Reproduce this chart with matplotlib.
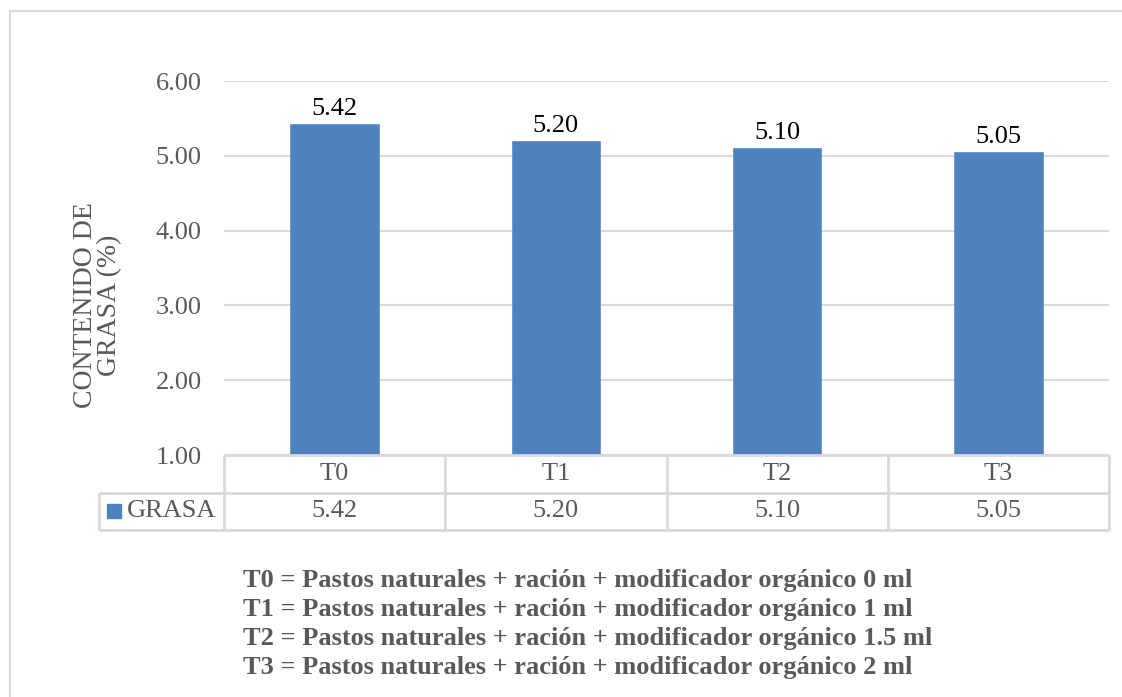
import matplotlib.pyplot as plt
from matplotlib.patches import Rectangle

plt.rcParams['font.family'] = ['Liberation Serif', 'DejaVu Serif']

# Data
tratamientos = ['T0', 'T1', 'T2', 'T3']
grasa = [5.42, 5.20, 5.10, 5.05]
serie = 'GRASA'
y_ticks = [1.0, 2.0, 3.0, 4.0, 5.0, 6.0]
y_label = 'CONTENIDO DE\nGRASA (%)'
notas = [
    'T0 = Pastos naturales + ración + modificador orgánico 0 ml',
    'T1 = Pastos naturales + ración + modificador orgánico 1 ml',
    'T2 = Pastos naturales + ración + modificador orgánico 1.5 ml',
    'T3 = Pastos naturales + ración + modificador orgánico 2 ml',
]

W, H = 1122, 697
gris = '#595959'
linea = '#D9D9D9'
azul = '#4F81BD'

fig = plt.figure(figsize=(W / 100, H / 100), dpi=100)


def box(x0, y0, x1, y1):
    # pixel box (top-left origin) -> figure fraction rect
    return [x0 / W, 1 - y1 / H, (x1 - x0) / W, (y1 - y0) / H]


# outer chart frame
fig.patches.append(Rectangle((10 / W, -0.1), 1.2, 1 - 11 / H + 0.1, transform=fig.transFigure,
                             fill=False, edgecolor=linea, linewidth=1.5))

# plot area
px_left, px_right, px_top, px_bot = 224, 1109, 81, 455
ax = fig.add_axes(box(px_left, px_top, px_right, px_bot))
x = range(len(tratamientos))
ax.bar(x, grasa, width=0.4, color=azul, edgecolor='#6A96CC', linewidth=0.6, zorder=3)
ax.set_xlim(-0.5, len(tratamientos) - 0.5)
ax.set_ylim(1, 6)
ax.set_yticks(y_ticks)
ax.set_yticklabels([f'{v:.2f}' for v in y_ticks], fontsize=19, color=gris)
ax.tick_params(axis='y', length=0, pad=16)
ax.set_xticks([])
ax.grid(axis='y', color=linea, linewidth=1.5, zorder=0)
for s in ax.spines.values():
    s.set_visible(False)

for xi, v in zip(x, grasa):
    ax.annotate(f'{v:.2f}', (xi, v), xytext=(0, 6.5), textcoords='offset points',
                ha='center', va='baseline', fontsize=19, color='black')

# data table below the plot
leg_left, tab_bot = 99, 530
unit = (px_right - px_left) / len(tratamientos)
tab = fig.add_axes(box(leg_left, px_bot, px_right, tab_bot))
x_leg = -0.5 - (px_left - leg_left) / unit
tab.set_xlim(x_leg, len(tratamientos) - 0.5)
tab.set_ylim(0, 2)
tab.axis('off')
lk = dict(color=linea, linewidth=2, clip_on=False, solid_capstyle='butt')
tab.plot([-0.5, len(tratamientos) - 0.5], [2, 2], **lk)
tab.plot([x_leg, len(tratamientos) - 0.5], [1, 1], **lk)
tab.plot([x_leg, len(tratamientos) - 0.5], [0, 0], **lk)
for i in range(len(tratamientos) + 1):
    tab.plot([i - 0.5, i - 0.5], [0, 2], **lk)
tab.plot([x_leg, x_leg], [0, 1], **lk)

for i, (t, v) in enumerate(zip(tratamientos, grasa)):
    tab.text(i, 1.5, t, ha='center', va='center', fontsize=19, color=gris)
    tab.text(i, 0.5, f'{v:.2f}', ha='center', va='center', fontsize=19, color=gris)

fig.patches.append(Rectangle((107 / W, 1 - 518 / H), 14 / W, 14 / H,
                             transform=fig.transFigure, color=azul))
fig.text(127 / W, 1 - 511 / H, serie, ha='left', va='center', fontsize=19, color=gris)

fig.text(98 / W, 1 - 305 / H, y_label, rotation=90, ha='center', va='center',
         fontsize=20, color=gris, linespacing=0.95, multialignment='center')

for k, nota in enumerate(notas):
    fig.text(243 / W, 1 - (580 + 29.3 * k) / H, nota, ha='left', va='center',
             fontsize=19, fontweight='bold', color=gris)

fig.savefig('out.png', dpi=100)
